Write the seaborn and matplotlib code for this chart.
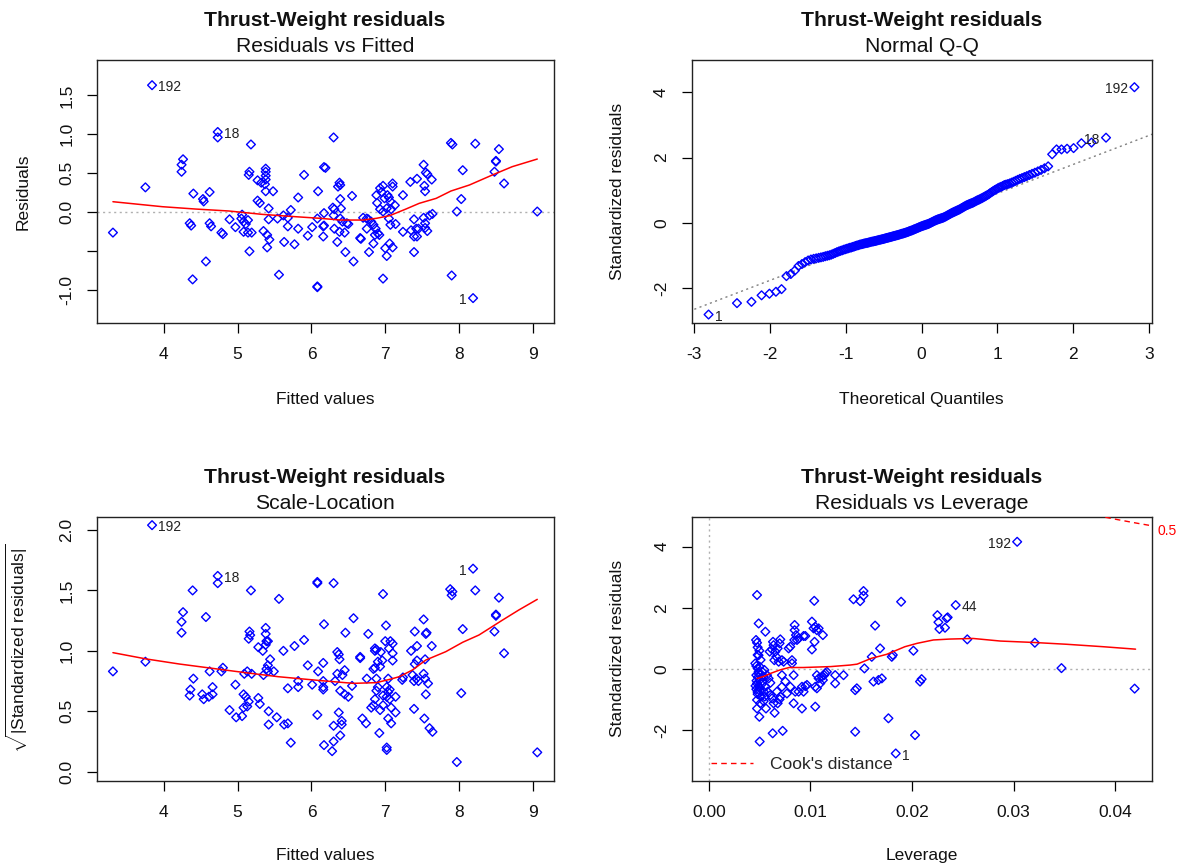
import numpy as np
import pandas as pd
import matplotlib
matplotlib.use("Agg")
import matplotlib.pyplot as plt
from matplotlib.lines import Line2D
import matplotlib.transforms as mtransforms
import seaborn as sns
from statistics import NormalDist

sns.set_theme(style="white")
plt.rcParams["font.family"] = ["Liberation Sans", "DejaVu Sans"]
plt.rcParams["axes.unicode_minus"] = False
plt.rcParams["mathtext.fontset"] = "custom"
plt.rcParams["mathtext.rm"] = "Liberation Sans"
plt.rcParams["mathtext.it"] = "Liberation Sans:italic"

# ---------------- data ----------------
main_title = "Thrust-Weight residuals"

# Residuals vs Fitted
fitted_rf = [3.31, 3.75, 3.84, 4.73, 4.73, 4.26, 4.24, 4.24, 4.40, 4.62, 4.53, 4.54, 4.35, 4.37, 4.62, 4.64,
             4.78, 4.80, 4.57, 4.39, 4.89, 4.97, 5.05, 5.06, 5.08, 5.11, 5.14, 5.08, 5.14, 5.19, 5.16, 5.18,
             5.16, 5.15, 5.27, 5.32, 5.38, 5.38, 5.38, 5.38, 5.37, 5.38, 5.48, 5.27, 5.30, 5.42, 5.42, 5.35,
             5.40, 5.43, 5.40, 5.54, 5.62, 5.68, 5.72, 5.68, 5.63, 5.77, 5.56, 5.82, 5.90, 5.82, 5.95, 6.01,
             6.09, 6.08, 6.08, 6.08, 6.16, 6.17, 6.16, 6.17, 6.17, 6.30, 6.19, 6.29, 6.31, 6.40, 6.30, 6.38,
             6.39, 6.36, 6.39, 6.55, 6.39, 6.42, 6.48, 6.50, 6.31, 6.38, 6.45, 6.35, 6.46, 6.57, 6.66, 6.67,
             6.70, 6.75, 6.77, 6.81, 6.84, 6.87, 6.90, 6.92, 6.75, 6.86, 6.84, 6.78, 6.97, 6.88, 6.93, 6.97,
             6.95, 6.99, 7.03, 7.05, 7.07, 7.10, 7.10, 7.13, 6.89, 6.93, 6.97, 7.02, 7.08, 7.05, 7.07, 7.14,
             7.00, 7.06, 7.10, 7.02, 7.24, 7.34, 7.43, 7.52, 7.55, 7.57, 7.63, 7.53, 7.54, 7.24, 7.39, 7.35,
             7.42, 7.45, 7.39, 7.43, 7.39, 7.52, 7.60, 7.64, 7.54, 7.54, 7.57, 7.89, 7.91, 8.05, 8.03, 7.97,
             7.90, 8.22, 8.19, 8.54, 8.50, 8.50, 8.48, 8.61, 9.06]
resid_rf = [-0.26, 0.32, 1.63, 1.03, 0.96, 0.68, 0.61, 0.52, 0.24, 0.26, 0.17, 0.14, -0.14, -0.17, -0.14, -0.18,
            -0.26, -0.28, -0.63, -0.86, -0.09, -0.19, -0.08, -0.03, -0.12, -0.15, -0.10, -0.25, -0.26, -0.26, -0.50, 0.87,
            0.52, 0.48, 0.41, 0.38, 0.56, 0.52, 0.47, 0.42, 0.36, 0.27, 0.27, 0.15, 0.12, 0.05, -0.09, -0.24,
            -0.29, -0.35, -0.45, -0.08, -0.04, -0.07, 0.03, -0.18, -0.38, -0.41, -0.80, 0.19, 0.48, -0.21, -0.30, -0.19,
            0.27, -0.95, -0.96, -0.08, -0.18, -0.17, -0.31, 0.58, -0.01, 0.96, 0.57, 0.06, 0.04, 0.05, -0.04, 0.38,
            0.35, 0.33, 0.17, 0.21, -0.08, -0.12, -0.14, -0.15, -0.21, -0.25, -0.26, -0.38, -0.51, -0.63, -0.33, -0.34,
            -0.07, -0.08, -0.09, -0.12, -0.16, -0.21, -0.27, -0.29, -0.21, -0.29, -0.40, -0.51, -0.85, 0.22, 0.31, 0.34,
            0.26, 0.18, 0.22, 0.19, 0.14, 0.37, 0.33, 0.09, 0.12, 0.04, 0.01, 0.05, 0.04, -0.08, -0.16, -0.15,
            -0.46, -0.40, -0.45, -0.56, 0.22, 0.39, 0.43, 0.61, 0.51, 0.49, 0.42, 0.34, 0.27, -0.25, -0.09, -0.23,
            -0.21, -0.21, -0.31, -0.31, -0.51, -0.07, -0.04, -0.02, -0.14, -0.20, -0.24, 0.89, 0.87, 0.54, 0.17, 0.01,
            -0.81, 0.88, -1.10, 0.81, 0.66, 0.65, 0.52, 0.37, 0.01]
smooth_rf_x = [3.31, 3.98, 4.43, 4.88, 5.33, 5.78, 6.12, 6.39, 6.70, 6.88, 7.06, 7.28, 7.46, 7.69, 7.89, 8.14, 8.45, 8.72, 9.06]
smooth_rf_y = [0.136, 0.072, 0.042, 0.017, -0.026, -0.056, -0.077, -0.099, -0.099, -0.077, -0.043, 0.042, 0.115,
               0.179, 0.273, 0.350, 0.478, 0.585, 0.683]
ids_rf = [("192", 3.84, 1.63, "right"), ("18", 4.73, 1.03, "right"), ("1", 8.19, -1.10, "left")]

# Normal Q-Q: ordered standardized residuals
qq_sorted = [
    -2.82, -2.47, -2.43, -2.23, -2.18, -2.12, -2.04, -1.64, -1.575, -1.47,
    -1.33, -1.27, -1.21, -1.16, -1.13, -1.11, -1.095, -1.08, -1.065, -1.05,
    -1.03, -1.015, -1.00, -0.98, -0.955, -0.93, -0.905, -0.885, -0.865, -0.85,
    -0.83, -0.815, -0.80, -0.785, -0.77, -0.76, -0.745, -0.73, -0.715, -0.70,
    -0.69, -0.675, -0.665, -0.655, -0.645, -0.635, -0.625, -0.62, -0.61, -0.60,
    -0.59, -0.58, -0.575, -0.565, -0.56, -0.55, -0.54, -0.53, -0.525, -0.515,
    -0.505, -0.50, -0.49, -0.48, -0.47, -0.465, -0.455, -0.445, -0.44, -0.43,
    -0.42, -0.41, -0.405, -0.395, -0.385, -0.38, -0.37, -0.36, -0.35, -0.34,
    -0.335, -0.325, -0.315, -0.305, -0.295, -0.285, -0.275, -0.26, -0.25, -0.24,
    -0.23, -0.215, -0.205, -0.19, -0.18, -0.165, -0.155, -0.14, -0.13, -0.115,
    -0.105, -0.095, -0.085, -0.075, -0.065, -0.055, -0.045, -0.035, -0.02, -0.005,
    0.01, 0.025, 0.04, 0.055, 0.07, 0.08, 0.095, 0.105, 0.115, 0.125,
    0.135, 0.145, 0.155, 0.17, 0.185, 0.20, 0.22, 0.235, 0.255, 0.27,
    0.29, 0.305, 0.32, 0.335, 0.35, 0.365, 0.38, 0.395, 0.41, 0.43,
    0.45, 0.47, 0.49, 0.51, 0.53, 0.545, 0.56, 0.575, 0.59, 0.605,
    0.62, 0.64, 0.66, 0.68, 0.70, 0.715, 0.735, 0.755, 0.78, 0.80,
    0.825, 0.85, 0.875, 0.91, 0.94, 0.97, 1.00, 1.025, 1.055, 1.08,
    1.10, 1.125, 1.155, 1.17, 1.185, 1.205, 1.23, 1.255, 1.285, 1.315,
    1.345, 1.37, 1.40, 1.43, 1.465, 1.50, 1.535, 1.575, 1.62, 1.67,
    1.73, 2.10, 2.25, 2.25, 2.27, 2.29, 2.44, 2.46, 2.61, 4.16]
ids_qq = [("192", 199, "left"), ("18", 198, "left"), ("1", 0, "right")]

# Scale-Location
fitted_sl = [3.31, 3.75, 3.84, 4.73, 4.73, 4.39, 4.26, 4.24, 4.24, 4.57, 4.40, 4.36, 4.35, 4.52, 4.54, 4.61,
             4.66, 4.66, 4.62, 4.78, 4.80, 4.97, 4.89, 4.98, 5.06, 5.08, 5.11, 5.15, 5.08, 5.13, 5.09, 5.13,
             5.19, 5.18, 5.16, 5.17, 5.15, 5.28, 5.34, 5.38, 5.39, 5.41, 5.38, 5.38, 5.44, 5.41, 5.39, 5.41,
             5.35, 5.49, 5.28, 5.30, 5.42, 5.42, 5.53, 5.63, 5.68, 5.72, 5.68, 5.62, 5.56, 5.77, 5.90, 5.82,
             5.82, 5.95, 6.01, 6.09, 6.08, 6.08, 6.08, 6.16, 6.17, 6.16, 6.16, 6.16, 6.17, 6.30, 6.35, 6.37,
             6.38, 6.35, 6.32, 6.46, 6.45, 6.42, 6.39, 6.45, 6.50, 6.37, 6.41, 6.41, 6.30, 6.39, 6.30, 6.28,
             6.57, 6.55, 6.66, 6.66, 6.77, 6.75, 6.69, 6.74, 6.86, 6.88, 6.86, 6.94, 6.96, 6.90, 6.93, 6.86,
             6.84, 6.97, 7.01, 7.00, 7.07, 7.10, 7.10, 7.05, 7.10, 6.88, 6.90, 6.88, 6.86, 6.84, 6.81, 6.93,
             7.04, 7.02, 7.06, 7.04, 6.97, 7.02, 7.06, 7.14, 6.97, 7.08, 7.14, 7.04, 7.08, 6.92, 7.02, 7.02,
             7.24, 7.23, 7.35, 7.43, 7.40, 7.52, 7.56, 7.55, 7.63, 7.43, 7.40, 7.54, 7.37, 7.42, 7.45, 7.39,
             7.52, 7.54, 7.58, 7.55, 7.39, 7.53, 7.60, 7.64, 7.88, 7.91, 7.90, 8.19, 8.22, 8.05, 8.03, 7.97,
             8.54, 8.50, 8.50, 8.48, 8.61, 9.06]
sqrt_std_sl = [0.83, 0.91, 2.04, 1.62, 1.56, 1.50, 1.32, 1.24, 1.15, 1.28, 0.77, 0.68, 0.63, 0.64, 0.60, 0.62,
               0.64, 0.70, 0.83, 0.83, 0.86, 0.72, 0.51, 0.45, 0.46, 0.64, 0.62, 0.58, 0.53, 0.54, 0.81, 0.83,
               0.81, 1.50, 1.16, 1.13, 1.10, 1.03, 1.00, 1.05, 1.08, 1.08, 1.14, 1.19, 0.93, 0.88, 0.85, 0.83,
               0.80, 0.83, 0.61, 0.56, 0.50, 0.39, 0.45, 0.39, 0.40, 0.24, 0.69, 1.00, 1.43, 1.04, 1.09, 0.75,
               0.70, 0.88, 0.72, 0.83, 0.47, 1.57, 1.56, 0.90, 1.22, 0.75, 0.70, 0.68, 0.22, 1.56, 0.99, 0.97,
               0.93, 0.81, 0.75, 1.15, 0.84, 0.80, 0.67, 0.64, 0.62, 0.49, 0.42, 0.39, 0.38, 0.30, 0.25, 0.17,
               1.27, 0.71, 0.95, 0.94, 1.14, 0.77, 0.44, 0.40, 1.02, 1.01, 1.00, 0.99, 0.92, 0.91, 0.87, 0.86,
               0.85, 1.47, 1.21, 1.08, 1.08, 1.06, 0.98, 1.02, 0.92, 0.77, 0.70, 0.67, 0.60, 0.55, 0.53, 0.51,
               0.77, 0.70, 0.68, 0.66, 0.63, 0.62, 0.60, 0.62, 0.55, 0.53, 0.49, 0.44, 0.40, 0.32, 0.20, 0.18,
               0.78, 0.76, 1.00, 1.04, 1.16, 1.26, 1.15, 1.14, 1.04, 0.92, 0.89, 0.93, 0.80, 0.77, 0.75, 0.75,
               0.81, 0.77, 0.73, 0.64, 0.52, 0.44, 0.36, 0.33, 1.51, 1.49, 1.46, 1.68, 1.50, 1.18, 0.65, 0.08,
               1.44, 1.30, 1.29, 1.16, 0.98, 0.16]
smooth_sl_x = [3.31, 3.76, 4.21, 4.66, 5.11, 5.55, 6.12, 6.57, 6.88, 7.06, 7.19, 7.37, 7.55, 7.82, 8.05, 8.27, 8.59, 8.81, 9.06]
smooth_sl_y = [0.985, 0.933, 0.891, 0.855, 0.819, 0.786, 0.754, 0.731, 0.737, 0.764, 0.786, 0.842, 0.924, 0.993,
               1.071, 1.131, 1.255, 1.338, 1.426]
ids_sl = [("192", 3.84, 2.04, "right"), ("18", 4.73, 1.62, "right"), ("1", 8.19, 1.68, "left")]

# Residuals vs Leverage
leverage_rl = [0.00475, 0.01038, 0.01424, 0.01490, 0.01523, 0.01523, 0.01893, 0.01637, 0.01686, 0.01801,
               0.01811, 0.01604, 0.01532, 0.02014, 0.01441, 0.01768, 0.02030, 0.01840, 0.02079, 0.02095,
               0.01441, 0.01457, 0.01621, 0.01670, 0.01703,
               0.00491, 0.00465, 0.00475, 0.00481, 0.00498, 0.00481, 0.00458, 0.00468, 0.00481, 0.00491,
               0.00468, 0.00484, 0.00501, 0.00475, 0.00491, 0.00468, 0.00501, 0.00481, 0.00514, 0.00475,
               0.00507, 0.00475, 0.00498, 0.00501, 0.00490, 0.00470, 0.00500, 0.00480, 0.00520, 0.00550,
               0.00530, 0.00510, 0.00490, 0.00540, 0.00460, 0.00500,
               0.00557, 0.00599, 0.00622, 0.00638, 0.00632, 0.00655, 0.00665, 0.00645, 0.00688, 0.00704,
               0.00697, 0.00678, 0.00720, 0.00547, 0.00573, 0.00589, 0.00606, 0.00557, 0.00580, 0.00606,
               0.00622, 0.00638, 0.00563, 0.00648, 0.00678, 0.00697, 0.00704, 0.00671, 0.00540, 0.00524,
               0.00540, 0.00629, 0.00727,
               0.00737, 0.00753, 0.00720, 0.00720, 0.00769, 0.00786, 0.00802, 0.00819, 0.00845, 0.00845,
               0.00858, 0.00884, 0.00933, 0.00950, 0.00842, 0.00868, 0.00819, 0.00835, 0.00802, 0.00851,
               0.00884, 0.00917, 0.00950, 0.00933, 0.00966, 0.00835, 0.00917, 0.01048,
               0.01015, 0.01048, 0.01064, 0.01031, 0.01081, 0.01123, 0.01041, 0.01015, 0.01064, 0.01081,
               0.01048, 0.01097, 0.01123, 0.01146, 0.01162, 0.01136, 0.01064, 0.01113, 0.01244, 0.01244,
               0.01326,
               0.03035, 0.02430, 0.02250, 0.02260, 0.02270, 0.02325, 0.02341, 0.02351, 0.02544, 0.03209,
               0.03471, 0.04191]
std_resid_rl = [2.42, 2.23, 2.28, 2.22, 2.40, 2.55, 2.20, 1.42, 0.675, 0.40,
                0.46, 0.40, 0.02, 0.60, -2.05, -1.61, -2.16, -2.76, -0.41, -0.33,
                -0.69, -0.63, -0.41, -0.36, -0.305,
                1.49, 0.95, 0.86, 0.71, 0.60, 0.46, 0.185, 0.10, 0.02, -0.09,
                -0.20, -0.27, -0.36, -0.47, -0.56, -0.66, -0.71, -0.82, -0.90, -1.01,
                -1.12, -1.29, -1.56, -2.37, -0.15, -0.38, -0.62, -0.75, -0.50, -0.90,
                -0.10, 0.30, 0.45, -1.05, -0.55, 0.08,
                1.22, 0.57, 0.64, 0.78, 0.89, 0.57, 0.40, 0.29, 0.24, 0.97,
                0.84, 0.675, 0.29, -0.03, -0.20, -0.305, -0.45, -0.58, -0.74, -0.85,
                -0.96, -1.12, -1.29, -1.43, -1.12, -0.99, -0.90, -0.74, -0.74, -0.41,
                -0.25, -2.10, -2.02,
                0.24, -0.41, -0.20, -0.58, -0.80, 0.675, 0.73, 0.29, 1.44, 1.27,
                1.11, 1.00, 1.08, 1.08, 0.95, 0.95, 0.185, -0.20, -0.58, -0.74,
                -0.74, -0.58, -0.56, -0.74, -0.52, -1.12, -1.29, -1.23,
                1.55, 1.38, 1.27, 1.33, 1.33, 1.11, 0.89, 0.64, -0.20, -0.305,
                -0.58, -0.47, -0.36, -0.14, -0.09, -0.20, -0.63, -0.25, -0.20, -0.47,
                -0.20,
                4.16, 2.09, 1.76, 1.53, 1.31, 1.35, 1.66, 1.69, 0.97, 0.86,
                0.03, -0.64]
smooth_rl_x = [0.00475, 0.0055, 0.0061, 0.0070, 0.0079, 0.0093, 0.0120, 0.0139, 0.0146, 0.0160, 0.0175,
               0.0193, 0.0205, 0.0221, 0.0237, 0.0260, 0.0287, 0.0319, 0.0352, 0.0388, 0.0420]
smooth_rl_y = [-0.31, -0.23, -0.14, -0.03, 0.05, 0.05, 0.08, 0.13, 0.16, 0.35, 0.48,
               0.73, 0.84, 0.95, 0.98, 1.00, 0.915, 0.87, 0.81, 0.73, 0.65]
ids_rl = [("192", 0.03035, 4.16, "left"), ("44", 0.02430, 2.09, "right"), ("1", 0.01840, -2.76, "right")]
cook_level = 0.5
n_coef = 2

# ---------------- style ----------------
W, H = 1183, 867
BLUE = "#0000FF"
RED = "#FF0000"
TICK_FS = 12.5
LAB_FS = 12.5
TITLE_FS = 15.2
ID_FS = 10
MARKER_S = 20

fig = plt.figure(figsize=(W / 100, H / 100), dpi=100)
fig.patch.set_facecolor("white")


def axes_px(left, top, right, bottom):
    return fig.add_axes([left / W, 1 - bottom / H, (right - left) / W, (bottom - top) / H])


def style_axes(ax, xlabel, ylabel, subtitle, xlim, ylim, xticks, yticks, ytick_labels=None, xtick_labels=None):
    ax.set_facecolor("white")
    ax.set_xlim(*xlim)
    ax.set_ylim(*ylim)
    ax.set_xticks(xticks)
    if xtick_labels is not None:
        ax.set_xticklabels(xtick_labels)
    ax.set_yticks(yticks)
    if ytick_labels is not None:
        ax.set_yticklabels(ytick_labels)
    ax.tick_params(axis="both", which="both", bottom=True, left=True, top=False, right=False,
                   direction="out", length=7.2, width=0.9, colors="black", labelsize=TICK_FS,
                   labelcolor="#111111")
    ax.tick_params(axis="x", pad=10)
    ax.tick_params(axis="y", pad=9)
    for lab in ax.get_yticklabels():
        lab.set_rotation(90)
        lab.set_va("center")
    for sp in ax.spines.values():
        sp.set_visible(True)
        sp.set_color("#222222")
        sp.set_linewidth(1.0)
    ax.set_xlabel(xlabel, fontsize=LAB_FS, color="#111111")
    ax.set_ylabel(ylabel, fontsize=LAB_FS, color="#111111")
    ax.xaxis.set_label_coords(0.5, -0.262)
    ax.yaxis.set_label_coords(-0.145, 0.5)
    ax.text(0.5, 1.149, main_title, transform=ax.transAxes, ha="center", va="center",
            fontsize=TITLE_FS, fontweight="bold", color="#111111")
    ax.text(0.5, 1.051, subtitle, transform=ax.transAxes, ha="center", va="center",
            fontsize=TITLE_FS, color="#111111")
    ax.grid(False)


def scatter(ax, x, y):
    sns.scatterplot(x=x, y=y, ax=ax, marker="D", s=MARKER_S, facecolor="none",
                    edgecolor=BLUE, linewidth=1.0, legend=False, zorder=3)


def label_points(ax, items):
    for txt, x, y, side in items:
        if side == "right":
            ax.annotate(txt, (x, y), xytext=(4.5, -1.5), textcoords="offset points",
                        ha="left", va="center", fontsize=ID_FS, color="#222222")
        else:
            ax.annotate(txt, (x, y), xytext=(-4.5, -1.5), textcoords="offset points",
                        ha="right", va="center", fontsize=ID_FS, color="#222222")


# ---- Residuals vs Fitted ----
ax1 = axes_px(96.7, 60, 553.5, 323.3)
ax1.axhline(0, color="#b0b0b0", linestyle=(0, (1.5, 2.5)), linewidth=1.0, zorder=1)
scatter(ax1, fitted_rf, resid_rf)
sns.lineplot(x=smooth_rf_x, y=smooth_rf_y, ax=ax1, color=RED, linewidth=1.1, sort=False,
             estimator=None, zorder=4)
label_points(ax1, ids_rf)
style_axes(ax1, "Fitted values", "Residuals", "Residuals vs Fitted",
           (3.09, 9.28), (-1.423, 1.953), [4, 5, 6, 7, 8, 9],
           [-1.0, -0.5, 0.0, 0.5, 1.0, 1.5], ["-1.0", "", "0.0", "0.5", "1.0", "1.5"])

# ---- Normal Q-Q ----
ax2 = axes_px(691.5, 60, 1151.5, 323.3)
n = len(qq_sorted)
theo = [NormalDist().inv_cdf((i + 0.5) / n) for i in range(n)]
sample = np.array(qq_sorted)
q1, q3 = np.quantile(sample, [0.25, 0.75])
z1, z3 = NormalDist().inv_cdf(0.25), NormalDist().inv_cdf(0.75)
slope = (q3 - q1) / (z3 - z1)
intercept = q1 - slope * z1
line_x = np.array([-3.2, 3.2])
ax2.plot(line_x, intercept + slope * line_x, color="#808080", linestyle=(0, (1.5, 2.5)),
         linewidth=1.0, zorder=1)
scatter(ax2, theo, qq_sorted)
for txt, idx, side in ids_qq:
    label_points(ax2, [(txt, theo[idx], qq_sorted[idx], side)])
style_axes(ax2, "Theoretical Quantiles", "Standardized residuals", "Normal Q-Q",
           (-3.032, 3.032), (-3.089, 4.995), [-3, -2, -1, 0, 1, 2, 3], [-2, 0, 2, 4])

# ---- Scale-Location ----
ax3 = axes_px(96.7, 516.7, 553.5, 781)
scatter(ax3, fitted_sl, sqrt_std_sl)
sns.lineplot(x=smooth_sl_x, y=smooth_sl_y, ax=ax3, color=RED, linewidth=1.1, sort=False,
             estimator=None, zorder=4)
label_points(ax3, ids_sl)
style_axes(ax3, "Fitted values", r"$\sqrt{|\mathrm{Standardized\ residuals}|}$", "Scale-Location",
           (3.09, 9.28), (-0.077, 2.11), [4, 5, 6, 7, 8, 9],
           [0.0, 0.5, 1.0, 1.5, 2.0], ["0.0", "0.5", "1.0", "1.5", "2.0"])
ax3.xaxis.set_label_coords(0.5, -0.255)

# ---- Residuals vs Leverage ----
ax4 = axes_px(691.7, 516.7, 1151.7, 781)
ax4.axhline(0, color="#b0b0b0", linestyle=(0, (1.5, 2.5)), linewidth=1.0, zorder=1)
ax4.axvline(0, color="#b0b0b0", linestyle=(0, (1.5, 2.5)), linewidth=1.0, zorder=1)
scatter(ax4, leverage_rl, std_resid_rl)
sns.lineplot(x=smooth_rl_x, y=smooth_rl_y, ax=ax4, color=RED, linewidth=1.1, sort=False,
             estimator=None, zorder=4)
hh = np.linspace(0.002, 0.0436, 200)
cook_curve = np.sqrt(cook_level * n_coef * (1 - hh) / hh)
ax4.plot(hh, cook_curve, color=RED, linestyle=(0, (4, 3)), linewidth=1.0, zorder=4)
ax4.plot(hh, -cook_curve, color=RED, linestyle=(0, (4, 3)), linewidth=1.0, zorder=4)
label_points(ax4, ids_rl)
style_axes(ax4, "Leverage", "Standardized residuals", "Residuals vs Leverage",
           (-0.00168, 0.04359), (-3.66, 4.98), [0.00, 0.01, 0.02, 0.03, 0.04], [-2, 0, 2, 4],
           xtick_labels=["0.00", "0.01", "0.02", "0.03", "0.04"])
ax4.xaxis.set_label_coords(0.5, -0.255)
xr = 0.04359
trans = mtransforms.blended_transform_factory(ax4.transAxes, ax4.transData)
ax4.annotate(f"{cook_level}", (1.0, np.sqrt(cook_level * n_coef * (1 - xr) / xr)), xycoords=trans,
             xytext=(4, -4), textcoords="offset points", ha="left", va="center",
             fontsize=ID_FS, color=RED, annotation_clip=False)
handle = Line2D([0], [0], color=RED, linestyle=(0, (4, 3)), linewidth=1.0)
ax4.legend([handle], ["Cook's distance"], loc="lower left", bbox_to_anchor=(0.035, 0.02),
           frameon=False, fontsize=LAB_FS, handlelength=2.4, handletextpad=1.0,
           borderpad=0.2, borderaxespad=0.0)

fig.savefig("out.png", dpi=100, facecolor="white")
